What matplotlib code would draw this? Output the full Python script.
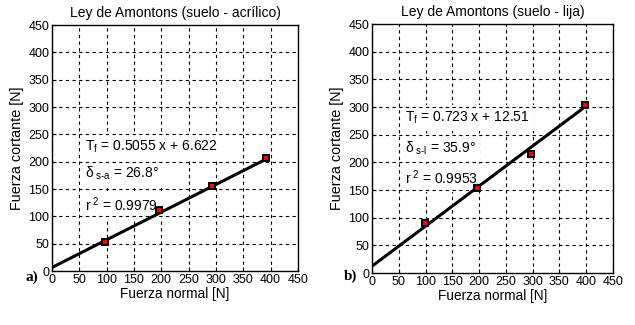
import numpy as np
import matplotlib
matplotlib.use('Agg')
import matplotlib.pyplot as plt

plt.rcParams['font.family'] = ['Liberation Sans', 'DejaVu Sans']
plt.rcParams['mathtext.fontset'] = 'custom'
plt.rcParams['mathtext.rm'] = 'Liberation Sans'
plt.rcParams['mathtext.it'] = 'Liberation Sans'
plt.rcParams['mathtext.default'] = 'regular'

# suelo - acrilico
normal_a = [97, 195, 293, 391]
cortante_a = [54, 112, 155, 206]
fit_a = (0.5055, 6.622)

# suelo - lija
normal_l = [98, 196, 297, 398]
cortante_l = [90, 153, 215, 304]
fit_l = (0.723, 12.51)

ticks = np.arange(0, 451, 50)


def panel(ax, x, y, fit, title, texts, tpos, tag, tagpos, hook=False):
    m, b = fit
    xl = np.array([0, x[-1] if not hook else x[-1] - 5])
    yl = m * xl + b
    if hook:
        xl = np.append(xl, x[-1])
        yl = np.append(yl, y[-1])
    ax.plot(xl, yl, color='black', lw=2.2, zorder=4, solid_capstyle='round')
    ax.plot(x, y, 's', ms=5, mfc='red', mec='black', mew=1.4, zorder=5)
    ax.set_xlim(0, 450)
    ax.set_ylim(0, 450)
    ax.set_xticks(ticks)
    ax.set_yticks(ticks)
    # vertical grid goes under the text boxes, horizontal over them
    ax.grid(True, axis='x', color='black', ls=(0, (3, 3)), lw=0.8, zorder=0)
    for t in ticks[1:-1]:
        ax.axhline(t, color='black', ls=(0, (3, 3)), lw=0.8, zorder=3)
    ax.tick_params(direction='in', length=3, labelsize=9, pad=2)
    for s in ax.spines.values():
        s.set_linewidth(1.0)
        s.set_zorder(6)
    ax.set_title(title, fontsize=10, pad=6)
    ax.set_xlabel('Fuerza normal [N]', fontsize=9.8, labelpad=1)
    ax.set_ylabel('Fuerza cortante [N]', fontsize=10.4, labelpad=3)
    for (tx, ty), t in zip(tpos, texts):
        ax.text(tx, ty, t, fontsize=10, va='center', zorder=2,
                bbox=dict(facecolor='white', edgecolor='none', pad=3.2))
    ax.text(tagpos[0], tagpos[1], tag, transform=ax.transAxes, fontsize=11,
            fontweight='bold', family='Liberation Serif', va='center', ha='right')


fig = plt.figure(figsize=(6.35, 3.25), dpi=100)
ax1 = fig.add_axes([0.082, 0.166, 0.387, 0.757])
ax2 = fig.add_axes([0.586, 0.16, 0.379, 0.766])

panel(ax1, normal_a, cortante_a, fit_a, 'Ley de Amontons (suelo - acrílico)',
      [r'T$_{f}$ = 0.5055 x + 6.622', r'$\delta_{\ \text{s-a}}$ = 26.8°', r'r$^{\ 2}$ = 0.9979'],
      [(60, 228), (60, 178), (60, 122)], 'a)', (-0.055, -0.025))
panel(ax2, normal_l, cortante_l, fit_l, 'Ley de Amontons (suelo - lija)',
      [r'T$_{f}$ = 0.723 x + 12.51', r'$\delta_{\ \text{s-l}}$ = 35.9°', r'r$^{\ 2}$ = 0.9953'],
      [(62, 280), (62, 226), (62, 172)], 'b)', (-0.06, -0.012), hook=True)

fig.savefig('out.png', dpi=100)
